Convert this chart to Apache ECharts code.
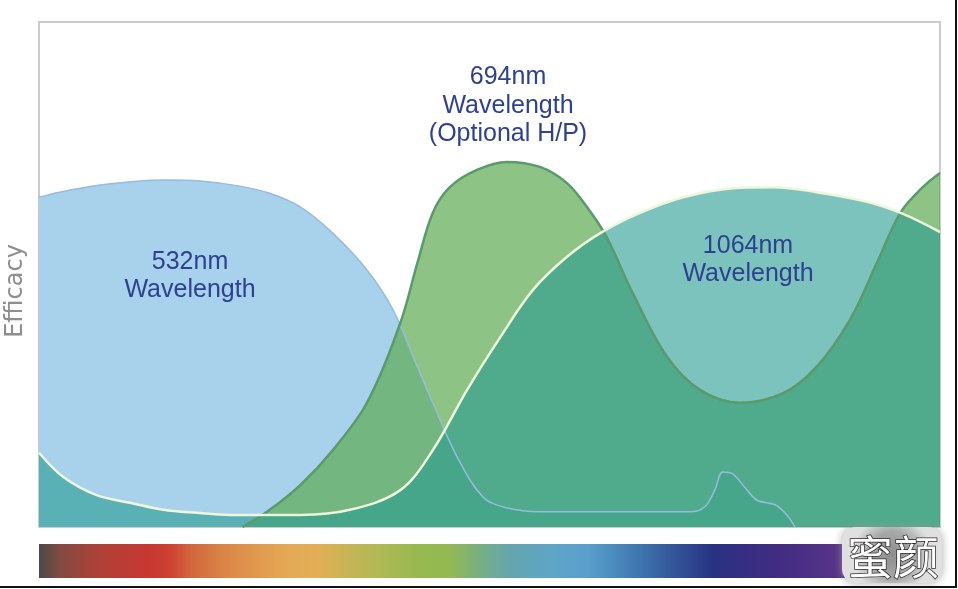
<!DOCTYPE html>
<html>
<head>
<meta charset="utf-8">
<script src="https://cdn.jsdelivr.net/npm/echarts@6/dist/echarts.min.js"></script>
<style>html,body{margin:0;padding:0;background:#fff;}#c{width:958px;height:589px;}</style>
</head>
<body>
<div id="c"></div>
<script>
// Relative spectral position (0-100) and relative efficacy (0-100)
var blueX  = [0, 2.3, 6.8, 11.2, 14.0, 17.9, 22.3, 25.6, 29.0, 32.6, 36.4, 39.3, 42.0, 43.7, 46.4, 49.3, 51.9, 55.6, 62.3, 72.3, 73.9, 75.0, 75.9, 77.0, 78.4, 79.7, 81.7, 83.0, 83.9];
var blueY  = [65.3, 66.3, 67.7, 68.5, 68.7, 68.5, 67.5, 66.1, 63.4, 58.2, 50.9, 43.0, 31.7, 24.6, 13.9, 5.9, 3.8, 3.0, 3.0, 3.0, 4.0, 7.3, 10.9, 10.5, 7.7, 5.3, 4.4, 2.4, 0.0];
var greenX = [22.6, 25.3, 29.0, 32.6, 36.4, 40.1, 42.0, 43.7, 45.6, 48.6, 51.9, 55.6, 58.6, 60.8, 63.0, 65.9, 69.7, 73.4, 77.8, 82.6, 86.3, 90.0, 93.0, 95.6, 98.1, 100];
var greenY = [0.0, 3.0, 8.3, 15.2, 24.6, 40.4, 52.3, 62.2, 67.3, 70.7, 72.3, 71.3, 68.1, 63.4, 57.4, 46.3, 33.7, 27.1, 24.6, 26.5, 31.7, 41.0, 52.3, 62.2, 67.3, 70.1];
var tealX  = [0, 2.7, 6.4, 10.1, 13.8, 17.5, 21.2, 24.9, 29.0, 34.5, 40.1, 43.7, 47.5, 51.2, 54.8, 58.6, 62.3, 66.7, 71.5, 77.0, 81.5, 86.3, 91.9, 95.9, 100];
var tealY  = [14.7, 9.9, 6.3, 4.8, 3.4, 2.8, 2.4, 2.4, 2.4, 3.4, 7.3, 15.2, 27.1, 37.6, 46.9, 53.5, 58.2, 62.2, 65.3, 67.1, 67.3, 66.3, 64.4, 62.0, 58.4];
var seriesNames = ['532nm Wavelength', '694nm Wavelength (Optional H/P)', '1064nm Wavelength'];
var labelTexts = ['532nm\nWavelength', '694nm\nWavelength\n(Optional H/P)', '1064nm\nWavelength'];
var axisTitle = 'Efficacy';
var watermark = '蜜颜';

function pairs(xs, ys) { return xs.map(function (x, i) { return [x, ys[i]]; }); }

var chart = echarts.init(document.getElementById('c'), null, { renderer: 'canvas' });
var labelStyle = { fill: '#2e4190', font: '25px "Liberation Sans", Arial, sans-serif', align: 'center', verticalAlign: 'middle', lineHeight: 28.5 };

var spectrumStops = [
  [0, 'rgb(75,72,72)'], [0.026, 'rgb(130,75,65)'], [0.076, 'rgb(175,65,55)'], [0.138, 'rgb(200,55,50)'],
  [0.163, 'rgb(205,65,50)'], [0.187, 'rgb(210,100,60)'], [0.225, 'rgb(218,130,70)'], [0.274, 'rgb(225,155,80)'],
  [0.311, 'rgb(228,170,85)'], [0.349, 'rgb(225,175,85)'], [0.380, 'rgb(200,180,85)'], [0.423, 'rgb(175,185,85)'],
  [0.473, 'rgb(150,185,80)'], [0.510, 'rgb(148,185,82)'], [0.547, 'rgb(120,175,130)'], [0.588, 'rgb(100,165,175)'],
  [0.630, 'rgb(95,165,195)'], [0.680, 'rgb(90,160,205)'], [0.712, 'rgb(75,140,190)'], [0.754, 'rgb(60,110,170)'],
  [0.795, 'rgb(50,80,150)'], [0.836, 'rgb(40,50,130)'], [0.878, 'rgb(55,45,130)'], [0.919, 'rgb(65,45,130)'],
  [0.981, 'rgb(85,50,135)'], [1, 'rgb(88,50,137)']
].map(function (s) { return { offset: s[0], color: s[1] }; });

chart.setOption({
  animation: false,
  backgroundColor: '#ffffff',
  grid: { left: 39, right: 18, top: 22, bottom: 62, show: true, borderColor: '#cbcbcb', borderWidth: 2,
    backgroundColor: '#ffffff', containLabel: false, outerBoundsMode: 'none' },
  xAxis: { type: 'value', min: 0, max: 100, show: false },
  yAxis: {
    type: 'value', min: 0, max: 100,
    axisLine: { show: false }, axisTick: { show: false }, axisLabel: { show: false }, splitLine: { show: false }
  },
  series: [
    { name: seriesNames[0], type: 'line', data: pairs(blueX, blueY), smooth: 0.35, symbol: 'none',
      lineStyle: { color: '#98bbe0', width: 1.5 }, areaStyle: { color: '#a8d1eb', opacity: 1 } },
    { name: seriesNames[1], type: 'line', data: pairs(greenX, greenY), smooth: 0.35, symbol: 'none',
      lineStyle: { color: '#5a9a6c', width: 2.5 }, areaStyle: { color: 'rgb(92,171,81)', opacity: 0.7 } },
    { name: seriesNames[2], type: 'line', data: pairs(tealX, tealY), smooth: 0.35, symbol: 'none',
      lineStyle: { color: '#eef6dc', width: 2.5 }, areaStyle: { color: 'rgb(38,155,145)', opacity: 0.6 } }
  ],
  graphic: [
    { type: 'text', x: 190, y: 276, z: 100, style: Object.assign({ text: labelTexts[0] }, labelStyle) },
    { type: 'text', x: 508, y: 106, z: 100, style: Object.assign({ text: labelTexts[1] }, labelStyle) },
    { type: 'text', x: 748, y: 260, z: 100, style: Object.assign({ text: labelTexts[2] }, labelStyle) },
    { type: 'text', x: 16, y: 291, rotation: Math.PI / 2, z: 100,
      style: { text: axisTitle, fill: '#8e8e8e', font: '24px "DejaVu Sans", sans-serif', align: 'center', verticalAlign: 'middle' } },
    { type: 'rect', x: 39, y: 544, z: 90, shape: { width: 806, height: 34 },
      style: { fill: new echarts.graphic.LinearGradient(0, 0, 1, 0, spectrumStops) } },
    { type: 'rect', x: 842, y: 527, z: 95, shape: { width: 100, height: 56, r: 14 },
      style: { fill: new echarts.graphic.RadialGradient(0.5, 0.5, 0.7, [
        { offset: 0, color: '#8e8e8e' }, { offset: 0.6, color: '#a8a8a8' }, { offset: 1, color: '#e0e0e0' }
      ]), shadowBlur: 8, shadowColor: 'rgba(150,150,150,0.8)' } },
    { type: 'text', x: 893, y: 557, z: 96,
      style: { text: watermark, fill: '#ffffff', stroke: '#2a2a2a', lineWidth: 1.5,
        font: '46px "Noto Sans CJK SC", sans-serif', align: 'center', verticalAlign: 'middle' } },
    { type: 'line', z: 100, shape: { x1: 956, y1: 0, x2: 956, y2: 587 }, style: { stroke: '#111', lineWidth: 2 } },
    { type: 'line', z: 100, shape: { x1: 0, y1: 587, x2: 957, y2: 587 }, style: { stroke: '#111', lineWidth: 2 } }
  ]
});
</script>
</body>
</html>
